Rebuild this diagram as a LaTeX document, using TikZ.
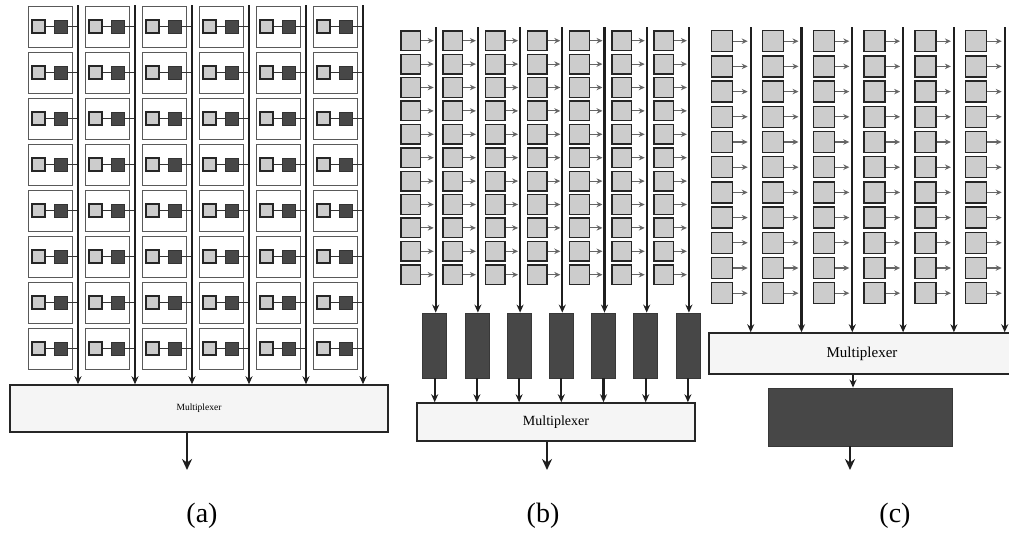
\documentclass[tikz,border=0pt]{standalone}
\usepackage{fontspec}
\setmainfont{Liberation Serif}
\usetikzlibrary{arrows.meta}
\begin{document}
\begin{tikzpicture}[x=1pt,y=-1pt,
  cellbox/.style={draw=black!65, line width=0.9pt, fill=white, inner sep=0pt, minimum width=44pt, minimum height=41pt, anchor=north west},
  lsq/.style={draw=black!85, line width=1.4pt, fill=black!20, inner sep=0pt},
  dsq/.style={draw=black!80, line width=0.8pt, fill=black!72, inner sep=0pt},
  link/.style={draw=black!80, line width=1.1pt},
  bus/.style={draw=black!88, line width=2.2pt, -{Stealth[length=8pt,width=7pt]}},
  cellarrow/.style={draw=black!60, line width=1.1pt, -{Stealth[length=6pt,width=5.5pt]}},
  muxbox/.style={draw=black!85, line width=1.5pt, fill=black!4, inner sep=0pt},
  darkbox/.style={draw=black!78, line width=0.8pt, fill=black!72, inner sep=0pt},
  outarrow/.style={draw=black!88, line width=2.4pt, -{Stealth[length=11pt,width=10pt]}},
  caption/.style={font=\fontsize{28}{32}\selectfont}
]
\useasboundingbox[fill=white] (0,0) rectangle (1009,533);

% ---------------- (a) ----------------
\node[muxbox, minimum width=378pt, minimum height=47pt, font=\fontsize{9.5}{11}\selectfont] (a-mux) at (199,408.5) {Multiplexer};
\foreach \i in {0,...,5}{
  \pgfmathsetmacro\bx{78+57*\i}
  \pgfmathsetmacro\cx{28+57*\i}
  \coordinate (a-top-\i) at (\bx,5);
  \foreach \j in {0,...,7}{
    \pgfmathsetmacro\cy{6+46*\j}
    \node[cellbox] (a-c-\i-\j) at (\cx,\cy) {};
    \node[lsq, minimum size=13pt] (a-l-\i-\j) at (\cx+10.5,\cy+20.5) {};
    \node[dsq, minimum size=13pt] (a-d-\i-\j) at (\cx+32.5,\cy+20.5) {};
    \draw[link] (a-l-\i-\j) -- (a-d-\i-\j);
    \draw[link] (a-d-\i-\j.east) -- (a-d-\i-\j.east -| a-top-\i);
  }
  \draw[bus] (a-top-\i) -- (a-top-\i |- a-mux.north);
}
\coordinate (a-out) at (187,470);
\draw[outarrow] (a-out |- a-mux.south) -- (a-out);

% ---------------- (b) ----------------
\node[muxbox, minimum width=278pt, minimum height=38pt, font=\fontsize{14}{16}\selectfont] (b-mux) at (556,422) {Multiplexer};
\foreach \i in {0,...,6}{
  \pgfmathsetmacro\bx{435.7+42.2*\i}
  \coordinate (b-top-\i) at (\bx,27);
  \node[darkbox, minimum width=24pt, minimum height=65pt] (b-d-\i) at (\bx-1,345.5) {};
  \foreach \j in {0,...,10}{
    \pgfmathsetmacro\cy{30.7+23.4*\j}
    \node[lsq, minimum size=19.5pt] (b-s-\i-\j) at (\bx-25,\cy+10) {};
    \draw[cellarrow] (b-s-\i-\j.east) -- ([xshift=-2pt]b-s-\i-\j.east -| b-top-\i);
  }
  \draw[bus] (b-top-\i) -- (b-top-\i |- b-d-\i.north);
  \draw[bus] (b-d-\i.south) -- (b-d-\i.south |- b-mux.north);
}
\coordinate (b-out) at (547,470);
\draw[outarrow] (b-out |- b-mux.south) -- (b-out);

% ---------------- (c) ----------------
\node[muxbox, minimum width=306pt, minimum height=41pt, font=\fontsize{15}{17}\selectfont] (c-mux) at (862,353.5) {Multiplexer};
\foreach \i in {0,...,5}{
  \pgfmathsetmacro\bx{750.7+50.8*\i}
  \coordinate (c-top-\i) at (\bx,27);
  \foreach \j in {0,...,10}{
    \pgfmathsetmacro\cy{30.7+25.2*\j}
    \node[lsq, minimum size=21pt] (c-s-\i-\j) at (\bx-28.5,\cy+10.5) {};
    \draw[cellarrow] (c-s-\i-\j.east) -- ([xshift=-3pt]c-s-\i-\j.east -| c-top-\i);
  }
  \draw[bus] (c-top-\i) -- (c-top-\i |- c-mux.north);
}
\node[darkbox, minimum width=184pt, minimum height=58pt] (c-d) at (860,417) {};
\coordinate (c-mid) at (853,380);
\draw[bus] (c-mid |- c-mux.south) -- (c-mid |- c-d.north);
\coordinate (c-out) at (850,470);
\draw[outarrow] (c-out |- c-d.south) -- (c-out);

% ---------------- captions ----------------
\node[caption] (cap-a) at (202,516) {(a)};
\node[caption] (cap-b) at (543,516) {(b)};
\node[caption] (cap-c) at (895,516) {(c)};
\end{tikzpicture}
\end{document}
